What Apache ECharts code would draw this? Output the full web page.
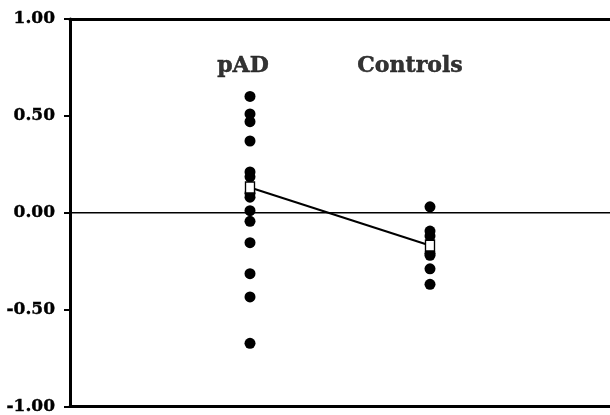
<!DOCTYPE html>
<html>
<head>
<meta charset="utf-8">
<script src="https://cdn.jsdelivr.net/npm/echarts@6/dist/echarts.min.js"></script>
<style>
  html, body { margin: 0; padding: 0; background: #fff; }
  #chart { width: 610px; height: 415px; }
</style>
</head>
<body>
<div id="chart"></div>
<script>
const groups = ['pAD', 'Controls']
const groupX = [1, 2]
const padValues = [0.60, 0.51, 0.47, 0.37, 0.21, 0.185, 0.10, 0.08, 0.01, -0.045, -0.155, -0.315, -0.435, -0.675]
const controlValues = [0.03, -0.095, -0.12, -0.21, -0.22, -0.29, -0.37]
const means = [0.13, -0.17]
const yTicks = [-1, -0.5, 0, 0.5, 1]

const font = '"DejaVu Serif", serif'
const chart = echarts.init(document.getElementById('chart'))

const dots = [
  ...padValues.map(v => [groupX[0], v]),
  ...controlValues.map(v => [groupX[1], v])
]

const frameAxis = pos => ({
  type: 'value', min: 0, max: 3, position: pos,
  axisLine: { show: true, onZero: false, lineStyle: { color: '#000', width: 3 } },
  axisTick: { show: false }, axisLabel: { show: false }, splitLine: { show: false }
})

chart.setOption({
  animation: false,
  grid: { left: 70, right: 0, top: 19, bottom: 7 },
  xAxis: [frameAxis('bottom'), frameAxis('top')],
  yAxis: {
    type: 'value', min: yTicks[0], max: yTicks[yTicks.length - 1], interval: 0.5,
    axisLine: { show: true, onZero: false, lineStyle: { color: '#000', width: 3 } },
    axisTick: { show: true, length: 6, lineStyle: { color: '#000', width: 2 } },
    axisLabel: {
      color: '#000', fontFamily: font, fontWeight: 'bold', fontSize: 17, margin: 15,
      textBorderColor: '#000', textBorderWidth: 0.4,
      formatter: v => v.toFixed(2)
    },
    splitLine: { show: false }
  },
  series: [
    {
      type: 'line', data: [[0, 0], [3, 0]], symbol: 'none', silent: true,
      lineStyle: { color: '#000', width: 1.5 }, z: 1
    },
    {
      type: 'scatter', data: dots, symbol: 'circle', symbolSize: 11,
      itemStyle: { color: '#000', opacity: 1 }, z: 2
    },
    {
      type: 'line', data: groupX.map((x, i) => [x, means[i]]),
      symbol: 'rect', symbolSize: [9, 11], showAllSymbol: true,
      lineStyle: { color: '#000', width: 2 },
      itemStyle: { color: '#fff', borderColor: '#000', borderWidth: 1.5 }, z: 3
    },
    {
      type: 'scatter', symbolSize: 0, silent: true,
      data: groupX.map((x, i) => ({
        name: groups[i], value: [x, 0.755],
        label: { offset: [i === 0 ? -7 : -20, 0] }
      })),
      label: {
        show: true, position: 'inside', formatter: '{b}',
        color: '#000', fontFamily: font, fontWeight: 'bold', fontSize: 22,
        textBorderColor: '#000', textBorderWidth: 0.5
      }
    }
  ]
})
</script>
</body>
</html>
